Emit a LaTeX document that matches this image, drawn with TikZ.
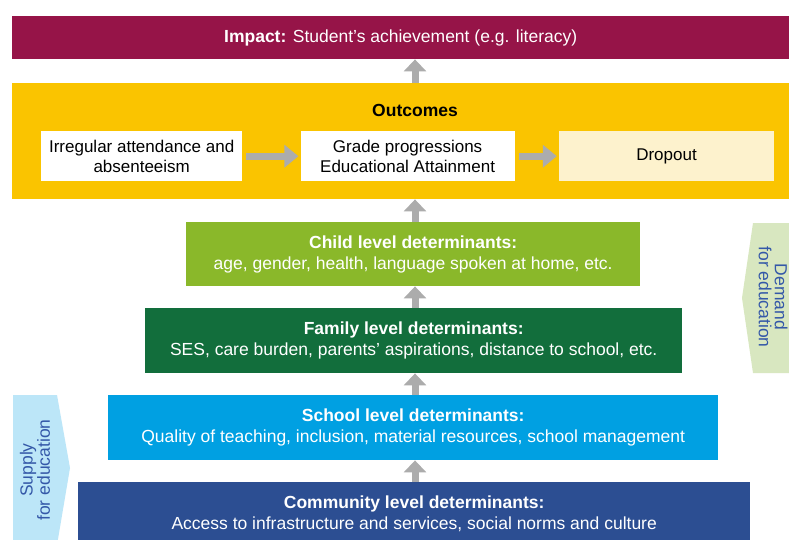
\documentclass[tikz,border=0pt]{standalone}
\usepackage{fontspec}
\setmainfont{Liberation Sans}
\usetikzlibrary{arrows.meta, positioning, calc}
\definecolor{impred}{RGB}{150,20,72}
\definecolor{outyellow}{RGB}{250,196,0}
\definecolor{dropcream}{RGB}{253,242,205}
\definecolor{childgreen}{RGB}{138,184,42}
\definecolor{famgreen}{RGB}{18,110,60}
\definecolor{schoolblue}{RGB}{0,160,226}
\definecolor{commblue}{RGB}{44,78,146}
\definecolor{demandbg}{RGB}{216,231,192}
\definecolor{supplybg}{RGB}{188,230,248}
\definecolor{sidetext}{RGB}{52,88,168}
\definecolor{arrgray}{RGB}{172,172,172}
\tikzset{
  band/.style={rectangle, anchor=north west, inner sep=0pt, align=center, text=white},
  level/.style={band, font=\fontsize{17.5}{21}\selectfont},
  inbox/.style={rectangle, anchor=north west, inner sep=0pt, fill=white, align=center, minimum height=50pt, font=\fontsize{17}{20}\selectfont},
  uparrow/.style={draw=arrgray, line width=7pt, -{Triangle[width=22pt, length=12pt]}},
  sidearrow/.style={draw=arrgray, line width=7pt, -{Triangle[width=22pt, length=14pt]}, shorten <=4pt, shorten >=2pt},
  sidelabel/.style={align=center, text=sidetext, font=\fontsize{17.5}{16}\selectfont}
}

\begin{document}
\begin{tikzpicture}[x=1pt, y=-1pt]
  \clip (0,0) rectangle (789,539);
  \fill[white] (0,0) rectangle (789,539);

  % top bands
  \node [band, fill=impred, minimum width=777pt, minimum height=43pt, font=\fontsize{17.5}{20}\selectfont] (impact) at (12,16) {\textbf{Impact:} Student's achievement (e.g. literacy)};
  \node [band, fill=outyellow, minimum width=777pt, minimum height=116pt] (outc) at (12,83) {};
  \node [font=\bfseries\fontsize{17.5}{20}\selectfont] (outtitle) at (415,110) {Outcomes};

  % outcome boxes
  \node [inbox, minimum width=201pt] (irr) at (41,131) {Irregular attendance and\\absenteeism};
  \node [inbox, minimum width=214pt, right=58pt of irr.north east, anchor=north west] (grade) {Grade progressions\\Educational Attainment};
  \node [inbox, minimum width=215pt, fill=dropcream, right=44pt of grade.north east, anchor=north west] (drop) {Dropout};

  % determinants
  \node [level, fill=childgreen, minimum width=454pt, minimum height=64pt] (child) at (186,222) {\textbf{Child level determinants:}\\age, gender, health, language spoken at home, etc.};
  \node [level, fill=famgreen, minimum width=537pt, minimum height=65pt] (family) at (145,308) {\textbf{Family level determinants:}\\SES, care burden, parents' aspirations, distance to school, etc.};
  \node [level, fill=schoolblue, minimum width=610pt, minimum height=65pt] (school) at (108,395) {\textbf{School level determinants:}\\Quality of teaching, inclusion, material resources, school management};
  \node [level, fill=commblue, minimum width=672pt, minimum height=63pt] (comm) at (78,482) {\textbf{Community level determinants:}\\Access to infrastructure and services, social norms and culture};

  % side arrows
  \fill[demandbg] (789,223) -- (753,223) -- (742,298) -- (753,373) -- (789,373) -- cycle;
  \node [sidelabel, rotate=-90] (demand) at (773,297) {Demand\\for education};
  \fill[supplybg] (13,395) -- (57,395) -- (70,468) -- (57,545) -- (13,545) -- cycle;
  \node [sidelabel, rotate=90] (supply) at (35,470) {Supply\\for education};

  % connectors
  \coordinate (ax) at (415,0);
  \draw [uparrow] (outc.north -| ax) -- (impact.south -| ax);
  \draw [uparrow] (child.north -| ax) -- (outc.south -| ax);
  \draw [uparrow] (family.north -| ax) -- (child.south -| ax);
  \draw [uparrow] (school.north -| ax) -- (family.south -| ax);
  \draw [uparrow] (comm.north -| ax) -- (school.south -| ax);
  \draw [sidearrow] (irr) -- (grade);
  \draw [sidearrow] (grade) -- (drop);
\end{tikzpicture}
\end{document}
